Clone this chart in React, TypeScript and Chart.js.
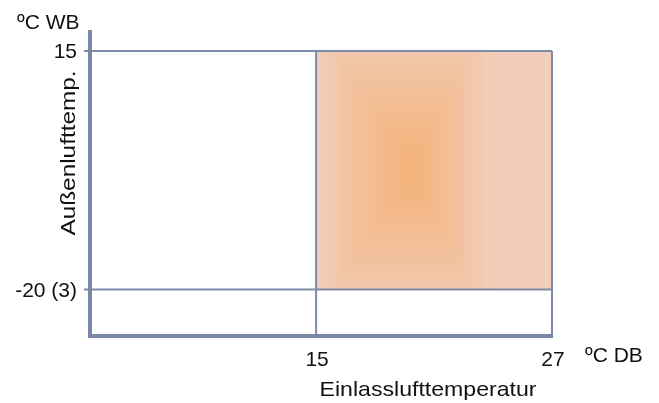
import React, { useEffect, useRef } from "react";
import { Chart, registerables } from "chart.js";

Chart.register(...registerables);

// ---- data ----
const xTickValues = [15, 27];
const xTickLabels = ["15", "27"];
const yTickValues = [15, -20];
const yTickLabels = ["15", "-20 (3)"];
const regionX = [15, 27];
const regionY = [-20, 15];
const xUnit = "ºC DB";
const yUnit = "ºC WB";
const xTitle = "Einlasslufttemperatur";
const yTitle = "Außenlufttemp.";

const FONT = "21px 'Liberation Sans', Arial, sans-serif";
const LINE = "rgb(124,139,167)";
const AXIS = "rgb(120,135,163)";
const TEXT = "#111111";

const lerp = (a: number[], b: number[], t: number) =>
  a.map((v, i) => Math.round(v + (b[i] - v) * t));

const drawPlugin = {
  id: "drawPlugin",
  beforeDatasetsDraw(chart: any) {
    const { ctx, scales } = chart;
    const xs = scales.x, ys = scales.y;
    const x0 = xs.getPixelForValue(regionX[0]);
    const x1 = xs.getPixelForValue(regionX[1]);
    const y0 = ys.getPixelForValue(regionY[1]);
    const y1 = ys.getPixelForValue(regionY[0]);
    const w = x1 - x0, h = y1 - y0;
    const cx = x0 + w * 0.41;
    const cy = y0 + h * 0.5;
    const hl = 99, hr = 78, hy = 150;
    const cCenter = [243, 178, 121];
    const cEdge = [242, 206, 186];
    ctx.save();
    ctx.beginPath();
    ctx.rect(x0, y0, w, h);
    ctx.clip();
    ctx.fillStyle = `rgb(${cEdge.join(",")})`;
    ctx.fillRect(x0, y0, w, h);
    const steps = 60;
    for (let i = steps; i >= 1; i--) {
      const t = i / steps;
      const col = lerp(cCenter, cEdge, Math.pow(t, 1.1));
      ctx.fillStyle = `rgb(${col.join(",")})`;
      ctx.fillRect(cx - hl * t, cy - hy * t, (hl + hr) * t, 2 * hy * t);
    }
    ctx.restore();
  },
  afterDatasetsDraw(chart: any) {
    const { ctx, scales, chartArea } = chart;
    const xs = scales.x, ys = scales.y;
    const left = chartArea.left, bottom = chartArea.bottom, top = chartArea.top;
    const xL = xs.getPixelForValue(xTickValues[0]);
    const xR = xs.getPixelForValue(xTickValues[xTickValues.length - 1]);
    const yT = ys.getPixelForValue(yTickValues[0]);
    ctx.save();
    // grid lines
    ctx.strokeStyle = LINE;
    ctx.lineWidth = 2;
    yTickValues.forEach((v) => {
      const y = ys.getPixelForValue(v);
      ctx.beginPath();
      ctx.moveTo(left - 6, y);
      ctx.lineTo(xR, y);
      ctx.stroke();
    });
    xTickValues.forEach((v) => {
      const x = xs.getPixelForValue(v);
      ctx.beginPath();
      ctx.moveTo(x, yT);
      ctx.lineTo(x, bottom);
      ctx.stroke();
    });
    // axes
    ctx.strokeStyle = AXIS;
    ctx.lineWidth = 4;
    ctx.beginPath();
    ctx.moveTo(left, top);
    ctx.lineTo(left, bottom + 2);
    ctx.stroke();
    ctx.beginPath();
    ctx.moveTo(left - 2, bottom);
    ctx.lineTo(xR + 1, bottom);
    ctx.stroke();

    // text
    ctx.fillStyle = TEXT;
    ctx.font = FONT;
    ctx.textBaseline = "alphabetic";
    ctx.textAlign = "right";
    yTickValues.forEach((v, i) => {
      const y = ys.getPixelForValue(v);
      ctx.fillText(yTickLabels[i], left - 13, y + 7.5);
    });
    ctx.textAlign = "center";
    xTickValues.forEach((v, i) => {
      const x = xs.getPixelForValue(v);
      ctx.fillText(xTickLabels[i], x + 1, bottom + 30);
    });
    ctx.textAlign = "left";
    ctx.fillText(xUnit, xR + 33, bottom + 26);
    ctx.fillText(yUnit, 17, top - 1);

    // x title
    ctx.save();
    ctx.translate((xL + xR) / 2 - 6, bottom + 60);
    ctx.scale(1.1, 1);
    ctx.textAlign = "center";
    ctx.fillText(xTitle, 0, 0);
    ctx.restore();

    // y title
    ctx.save();
    ctx.translate(left - 15, 153);
    ctx.rotate(-Math.PI / 2);
    ctx.scale(1.16, 1);
    ctx.textAlign = "center";
    ctx.fillText(yTitle, 0, 0);
    ctx.restore();
    ctx.restore();
  },
};

export default function App() {
  const ref = useRef<HTMLCanvasElement>(null);
  useEffect(() => {
    if (!ref.current) return;
    const chart = new Chart(ref.current, {
      type: "scatter",
      data: {
        datasets: [
          {
            data: [
              { x: regionX[0], y: regionY[0] },
              { x: regionX[1], y: regionY[1] },
            ],
            pointRadius: 0,
            showLine: false,
          },
        ],
      },
      options: {
        animation: false,
        responsive: false,
        events: [],
        layout: { padding: { left: 90, right: 107, top: 30, bottom: 67 } },
        plugins: { legend: { display: false }, tooltip: { enabled: false } },
        scales: {
          x: { type: "linear", display: false, min: 3.5, max: 27 },
          y: { type: "linear", display: false, min: -26.82, max: 18.08 },
        },
      },
      plugins: [drawPlugin],
    });
    return () => chart.destroy();
  }, []);
  return (
    <div style={{ position: "absolute", left: 0, top: 0, width: 659, height: 403, background: "#fff" }}>
      <canvas ref={ref} width={659} height={403} />
    </div>
  );
}
